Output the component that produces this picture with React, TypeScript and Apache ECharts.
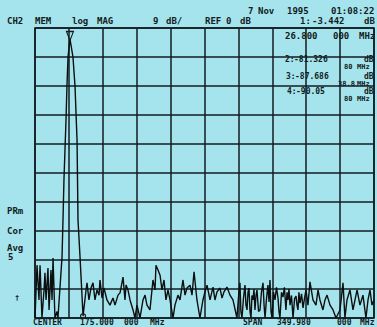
import React, { useEffect, useRef } from "react";
import * as echarts from "echarts";

// Trace of the analyzer (frequency in MHz, level in dB)
const freqMHz = [
  0, 2.1, 4.1, 5.2, 7.2, 9.3, 10.3, 11.4, 13.4, 14.5, 16.5, 17.6, 18.6, 20.6, 22.7, 23.7,
  27.9, 28.9, 29.9, 32.0, 33.0, 34.1, 36.1, 39.2, 41.3, 43.4, 44.4, 46.5, 49.6,
  52.7, 53.7, 55.7, 57.8, 59.9, 61.9, 64.0, 66.1, 67.1, 69.2, 71.2, 74.3, 77.4, 80.5, 82.6,
  85.7, 87.8, 90.9, 92.9, 94.0, 96.0, 98.1, 101.2, 103.2, 105.3, 108.4, 111.5, 113.6, 115.6,
  118.7, 121.8, 123.9, 124.9, 127.0, 129.1, 131.1, 133.2, 135.2, 137.3, 139.4, 142.5, 144.5,
  147.6, 149.7, 152.8, 154.9, 156.9, 160.0, 162.1, 164.2, 167.2, 170.3, 173.4, 175.5, 177.6,
  180.7, 183.8, 185.8, 187.9, 191.0, 193.1, 195.1, 198.2, 201.3, 204.4,
  208.5, 210.5, 211.6, 212.6, 213.7, 215.2, 216.8, 217.8, 218.9, 219.9, 220.9, 222.0,
  223.0, 224.0, 225.1, 226.1, 227.1, 228.2, 229.2, 230.8, 232.3, 233.8, 235.4, 236.5,
  237.5, 239.0, 240.5, 241.6, 242.6, 243.7, 244.7, 246.2, 247.8, 249.3, 250.9, 251.9,
  252.9, 254.5, 256.0, 257.5, 259.1, 260.2, 261.2, 262.2, 263.3, 264.8, 266.4, 268.0,
  269.5, 270.5, 271.5, 272.5, 273.6, 275.2, 276.7, 278.2, 279.8,
  281.8, 283.9, 287.0, 290.1, 292.2, 294.2, 297.3, 299.4, 301.5, 304.6, 307.7, 310.8, 314.9,
  318.0, 320.0, 322.1, 325.2, 328.3, 330.4, 332.5, 335.5, 338.6, 341.7, 343.8, 345.9, 347.9, 350,
];
const levelDb = [
  -90, -73.6, -84.4, -73.6, -90, -81.3, -76.0, -84.4, -74.5, -87.5, -75.1, -84.4, -71.4, -90, -88, -90,
  -71.1, -59.6, -47.2, -28.6, -18.0, -9.0, -3.4, -9.0, -18.0, -34.8, -59.6, -71.1, -89.4,
  -81.3, -79.1, -84.4, -80.7, -79.1, -84.4, -81.3, -82.9, -78.2, -83.8, -80.7, -84.4, -86.0, -83.8, -86.0,
  -82.9, -82.2, -77.3, -84.4, -79.8, -81.3, -84.4, -87.5, -90, -86.0, -90, -84.4, -82.9, -86.0,
  -87.5, -78.2, -81.3, -73.6, -75.1, -76.7, -81.3, -78.2, -84.4, -81.3, -84.4, -90, -86.0,
  -82.9, -84.4, -78.2, -82.9, -80.7, -79.8, -82.9, -75.7, -84.4, -90, -84.4, -81.9, -79.8,
  -84.4, -80.4, -84.4, -81.9, -80.7, -83.8, -81.9, -80.4, -82.9, -84.4,
  -90, -82, -79.1, -88, -90, -84, -79.8, -86, -87.5, -82, -80.7, -88,
  -90, -83, -84.4, -81, -87.5, -83, -81.3, -88, -87.5, -82, -79.1, -86,
  -90, -84, -79.8, -85, -78.2, -88, -90, -82, -84.4, -80.5, -83.8, -88,
  -90, -82, -83.5, -80.5, -87.5, -82, -84.4, -81, -86.0, -83, -90, -84,
  -83.2, -86, -87.5, -82, -85.4, -82.5, -86.9, -84, -81.3,
  -86.0, -78.8, -84.4, -86.0, -81.3, -84.4, -87.5, -84.4, -82.9, -86.0, -87.5, -90, -87.5,
  -79.1, -90, -84.4, -81.3, -87.5, -84.4, -81.3, -86.0, -82.9, -90, -84.4, -81.3, -86.0, -84.4,
];

// Markers
const peakMarker = [36.1, -3.4];
const lowMarker = [49.6, -89.4];

const BG = "#a5e4ec";
const INK = "#121c22";
const FONT = "'DejaVu Sans Mono', monospace";

// Annotation words: [text, x, y, fontSize]
const annotations: [string, number, number, number][] = [
  ["7", 248, 11, 9], ["Nov", 258, 11, 9], ["1995", 287, 11, 9], ["01:08:22", 331, 11, 9],
  ["CH2", 7, 21, 9], ["MEM", 35, 21, 9], ["log", 72, 21, 9], ["MAG", 97, 21, 9],
  ["9", 153, 21, 9], ["dB/", 166, 21, 9], ["REF", 205, 21, 9], ["0", 226, 21, 9], ["dB", 240, 21, 9],
  ["1:", 300, 21, 9], ["-3.442", 312, 21, 9], ["dB", 364, 21, 9],
  ["26.800", 285, 36, 9], ["000", 333, 36, 9], ["MHz", 359, 36, 9],
  ["2:", 285, 59, 8], ["-81.326", 294, 59, 8], ["dB", 364, 59, 8], ["80", 344, 67, 7], ["MHz", 357, 67, 7],
  ["3:", 286, 76, 8], ["-87.686", 295, 76, 8], ["dB", 364, 76, 8], ["38.8", 338, 84, 7], ["MHz", 357, 84, 7],
  ["4:", 287, 91, 8], ["-90.05", 296, 91, 8], ["dB", 364, 91, 8], ["80", 344, 99, 7], ["MHz", 357, 99, 7],
  ["PRm", 7, 211, 9], ["Cor", 7, 231, 9], ["Avg", 7, 248, 9], ["5", 8, 257, 9], ["\u2020", 15, 298, 7],
  ["CENTER", 33, 322, 8], ["175.000", 80, 322, 8], ["000", 124, 322, 8], ["MHz", 150, 322, 8],
  ["SPAN", 243, 322, 8], ["349.980", 277, 322, 8], ["000", 337, 322, 8], ["MHz", 360, 322, 8],
];

export default function App() {
  const ref = useRef<HTMLDivElement>(null);
  useEffect(() => {
    if (!ref.current) return;
    const chart = echarts.init(ref.current, undefined, { renderer: "svg" });
    const data = freqMHz.map((f, i) => [f, levelDb[i]]);
    chart.setOption({
      animation: false,
      backgroundColor: BG,
      grid: {
        left: 35, top: 28, width: 339, height: 290,
        show: true, borderColor: INK, borderWidth: 1.5, backgroundColor: "transparent",
      },
      xAxis: {
        type: "value", min: 0, max: 350, interval: 35,
        axisLine: { show: false }, axisTick: { show: false }, axisLabel: { show: false },
        splitLine: { show: true, lineStyle: { color: INK, width: 1.5 } },
      },
      yAxis: {
        type: "value", min: -90, max: 0, interval: 9,
        axisLine: { show: false }, axisTick: { show: false }, axisLabel: { show: false },
        splitLine: { show: true, lineStyle: { color: INK, width: 1.5 } },
      },
      series: [
        {
          type: "line",
          data,
          symbol: "none",
          lineStyle: { color: "#0c0f10", width: 1.4 },
          markPoint: {
            label: { show: false },
            data: [
              {
                coord: peakMarker, symbol: "triangle", symbolRotate: 180, symbolSize: [7, 9],
                symbolOffset: [0, -3],
                itemStyle: { color: "transparent", borderColor: INK, borderWidth: 1.2 },
              },
              {
                coord: lowMarker, symbol: "circle", symbolSize: 5,
                itemStyle: { color: "transparent", borderColor: INK, borderWidth: 1.2 },
              },
            ],
          },
        },
      ],
      graphic: annotations.map(([text, x, y, size]) => ({
        type: "text",
        x, y,
        style: {
          text, fill: INK, fontSize: size, fontFamily: FONT, fontWeight: "bold",
          align: "left", verticalAlign: "middle",
        },
      })),
    });
    return () => chart.dispose();
  }, []);
  return (
    <div
      ref={ref}
      style={{ position: "fixed", left: 0, top: 0, width: 377, height: 327, background: BG }}
    />
  );
}
